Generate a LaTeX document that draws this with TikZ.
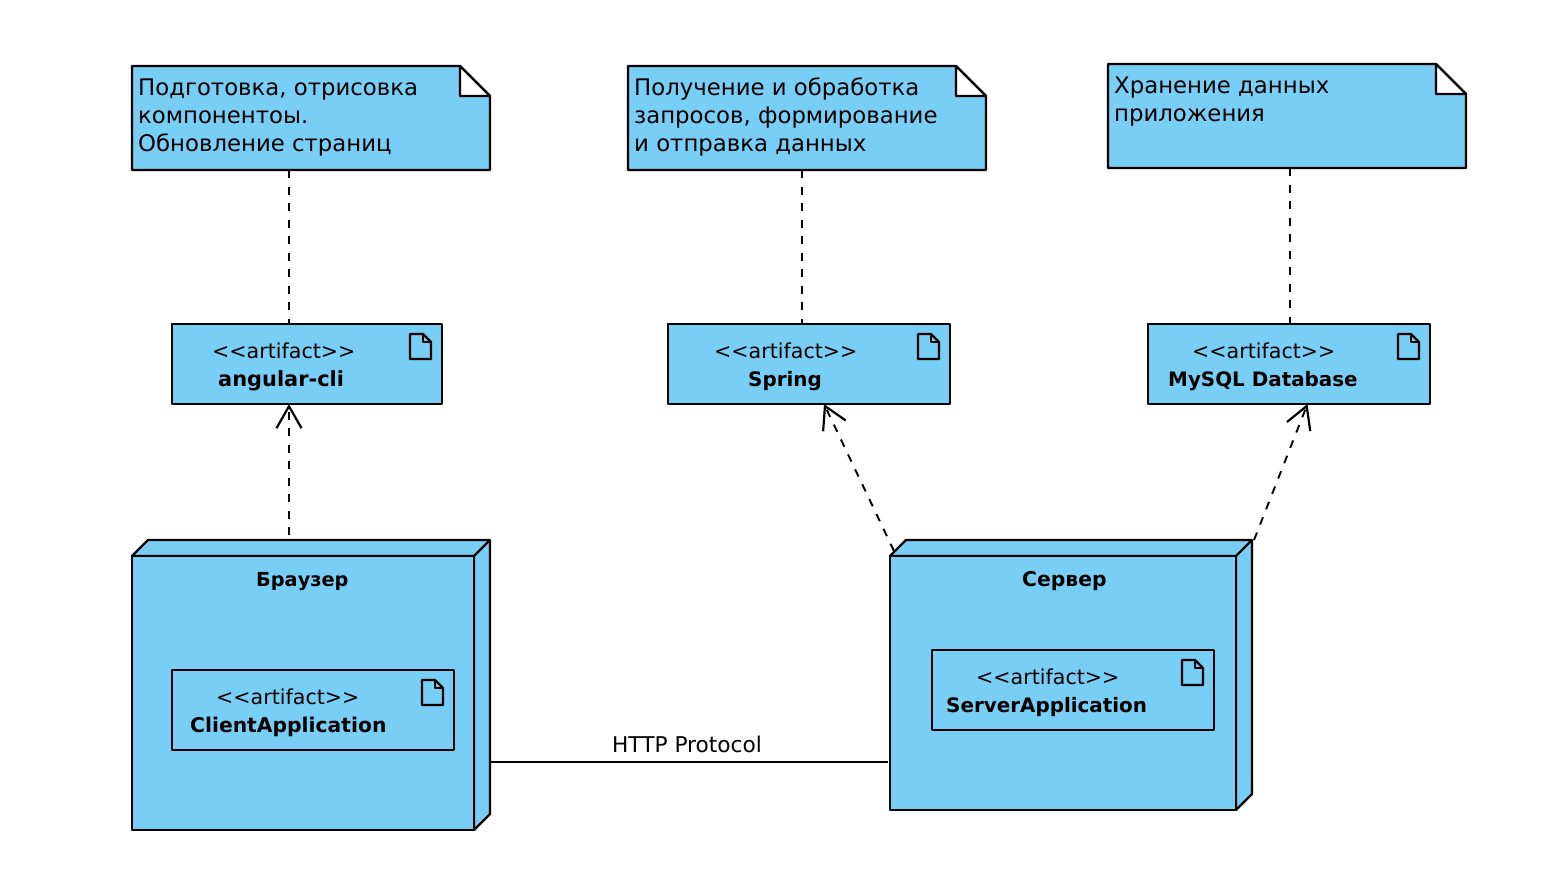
\documentclass[tikz,border=0pt]{standalone}
\usepackage{fontspec}
\setmainfont{DejaVu Sans}
\usetikzlibrary{arrows.meta,calc}
\definecolor{umlblue}{HTML}{79CEF5}
\newcommand\notetext{\fontsize{22.8}{28}\selectfont}
\newcommand\stereotext{\fontsize{20.6}{28}\selectfont}
\newcommand\linktext{\fontsize{21.7}{28}\selectfont}
\newcommand\boldtext{\fontsize{19.9}{28}\selectfont\bfseries}
\newcommand\boldwide{\fontsize{20.3}{28}\selectfont\bfseries}
\newcommand\boldwider{\fontsize{20.9}{28}\selectfont\bfseries}
\newcommand\boldsmall{\fontsize{19.3}{28}\selectfont\bfseries}
\tikzset{
  x=1pt,y=-1pt,
  outline/.style={draw=black,line width=2.2pt,line join=round},
  boxnode/.style={outline,fill=umlblue,rectangle,inner sep=0pt,outer sep=0pt},
  plainface/.style={outline,fill=umlblue},
  foldface/.style={outline,fill=white},
  notelabel/.style={inner sep=0pt,anchor=base west,font=\notetext,text=black},
  stereo/.style={inner sep=0pt,anchor=base west,font=\stereotext,text=black},
  heavy/.style={inner sep=0pt,anchor=base west,font=\boldtext,text=black},
  heavywide/.style={inner sep=0pt,anchor=base west,font=\boldwide,text=black},
  heavywider/.style={inner sep=0pt,anchor=base west,font=\boldwider,text=black},
  heavysmall/.style={inner sep=0pt,anchor=base west,font=\boldsmall,text=black},
  dashline/.style={draw=black,line width=1.9pt,dash pattern=on 8pt off 8.5pt},
  dep/.style={dashline,-{Straight Barb[length=22pt,width=25pt,line width=2.2pt]}},
  solidline/.style={draw=black,line width=2.2pt},
}
\newcommand\docicon[1]{%
  \draw[outline,fill=none] ([shift={(-32,10)}]#1.north east) -- ++(13,0) -- ++(8,8) -- ++(0,17) -- ++(-21,0) -- cycle;
  \draw[outline,fill=none] ([shift={(-19,10)}]#1.north east) -- ++(0,8) -- ++(8,0);
}
\begin{document}
\begin{tikzpicture}
\useasboundingbox (0,0) rectangle (1542,886);

% notes
\newcommand\notebody[3]{%
  \node[rectangle,inner sep=0pt,outer sep=0pt,minimum width=358pt,minimum height=104pt] (#1) at (#2,#3) {};
  \draw[plainface] (#1.north west) -- ([xshift=-30pt]#1.north east) -- ([yshift=-30pt]#1.north east) -- (#1.south east) -- (#1.south west) -- cycle;
  \draw[foldface] ([xshift=-30pt]#1.north east) -- ([yshift=-30pt]#1.north east) -- ([shift={(-30pt,-30pt)}]#1.north east) -- cycle;
}
\notebody{noteA}{311}{118}
\notebody{noteB}{807}{118}
\notebody{noteC}{1287}{116}

\node[notelabel] (tA1) at (138,95) {Подготовка, отрисовка};
\node[notelabel] (tA2) at (138,123) {компонентоы.};
\node[notelabel] (tA3) at (138,151) {Обновление страниц};
\node[notelabel] (tB1) at (634,95) {Получение и обработка};
\node[notelabel] (tB2) at (634,123) {запросов, формирование};
\node[notelabel] (tB3) at (634,151) {и отправка данных};
\node[notelabel] (tC1) at (1114,93) {Хранение данных};
\node[notelabel] (tC2) at (1114,121) {приложения};

% artifacts
\node[boxnode,minimum width=270pt,minimum height=80pt] (artA) at (307,364) {};
\node[boxnode,minimum width=282pt,minimum height=80pt] (artB) at (809,364) {};
\node[boxnode,minimum width=282pt,minimum height=80pt] (artC) at (1289,364) {};
\docicon{artA}\docicon{artB}\docicon{artC}
\node[stereo] (sA) at (212,358) {<{}<artifact>{}>};
\node[stereo] (sB) at (714,358) {<{}<artifact>{}>};
\node[stereo] (sC) at (1192,358) {<{}<artifact>{}>};
\node[heavywider] (lA) at (218,386) {angular-cli};
\node[heavy] (lB) at (748,386) {Spring};
\node[heavy] (lC) at (1168,386) {MySQL Database};

% deployment nodes
\draw[plainface] (132,556) -- (148,540) -- (490,540) -- (490,814) -- (474,830) -- (474,556) -- cycle;
\draw[outline] (474,556) -- (490,540);
\node[boxnode,minimum width=342pt,minimum height=274pt] (browser) at (303,693) {};
\draw[plainface] (890,556) -- (906,540) -- (1252,540) -- (1252,794) -- (1236,810) -- (1236,556) -- cycle;
\draw[outline] (1236,556) -- (1252,540);
\node[boxnode,minimum width=346pt,minimum height=254pt] (server) at (1063,683) {};
\node[heavysmall] (lBr) at (256,586) {Браузер};
\node[heavywide] (lSr) at (1022,586) {Сервер};

\node[boxnode,minimum width=282pt,minimum height=80pt] (client) at (313,710) {};
\node[boxnode,minimum width=282pt,minimum height=80pt] (srvapp) at (1073,690) {};
\docicon{client}\docicon{srvapp}
\node[stereo] (sD) at (216,704) {<{}<artifact>{}>};
\node[stereo] (sE) at (976,684) {<{}<artifact>{}>};
\node[heavywide] (lD) at (190,732) {ClientApplication};
\node[heavy] (lE) at (946,712) {ServerApplication};

% connectors
\draw[dashline] ([xshift=-22pt]noteA.south) -- ([xshift=-18pt]artA.north);
\draw[dashline] ([xshift=-5pt]noteB.south) -- ([xshift=-7pt]artB.north);
\draw[dashline] ([xshift=3pt]noteC.south) -- ([xshift=1pt]artC.north);
\draw[dep] ([shift={(-14pt,21pt)}]browser.north) -- ([xshift=-18pt]artA.south);
\draw[dep] ([shift={(4pt,5pt)}]server.north west) -- ([xshift=15pt]artB.south);
\draw[dep] ([shift={(18pt,16pt)}]server.north east) -- ([xshift=18.5pt]artC.south);
\draw[solidline] ([shift={(16pt,68pt)}]browser.south east) -- node[pos=0.5,above=0pt,yshift=8pt,xshift=-2pt,inner sep=0pt,font=\linktext] (http) {HTTP Protocol} ([shift={(-2pt,48pt)}]server.south west);
\end{tikzpicture}
\end{document}
